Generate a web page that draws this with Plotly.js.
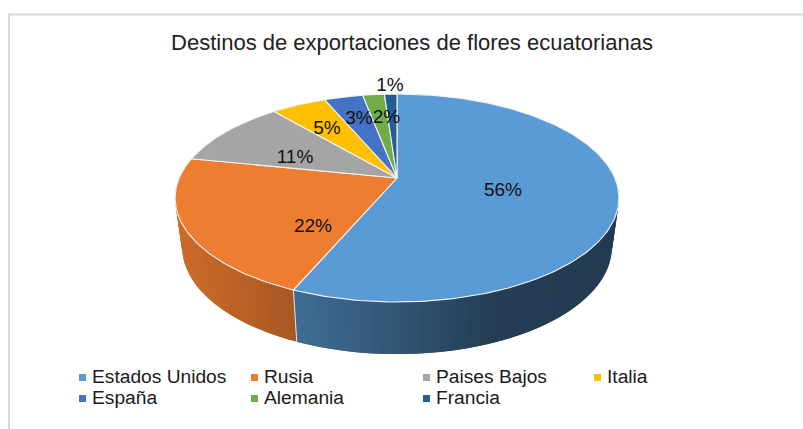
<!DOCTYPE html>
<html>
<head>
<meta charset="utf-8">
<script src="https://cdn.plot.ly/plotly-3.0.1.min.js"></script>
<style>html,body{margin:0;padding:0;background:#fff}#c{width:803px;height:429px}</style>
</head>
<body>
<div id="c"></div>
<script>
const titleText = "Destinos de exportaciones de flores ecuatorianas";
const categories = ["Estados Unidos","Rusia","Paises Bajos","Italia","España","Alemania","Francia"];
const shares = [56.4,21.8,10.6,4.8,3.4,1.9,1.1];
const colors = ["#5B9BD5","#ED7D31","#A5A5A5","#FFC000","#4472C4","#70AD47","#255E91"];

// page geometry (plot area maps 1:1 to pixels)
const W = 803, H = 429;
const labelAnchors = [[503,191],[313,227],[295,158],[327,129],[359,119],[386.5,118],[390,86]];
const legendAnchors = [[82.5,377.5],[254.5,377.5],[426.5,377.5],[597.5,377.5],[82.5,398.5],[254.5,398.5],[426.5,398.5]];
const apex = [397,178], P = 0.1923, A = 100.15, B = 217.8;
const DEG = Math.PI/180;

function rimTop(theta){
  const u = Math.sin(theta*DEG), v = Math.cos(theta*DEG), d = 1 + P*v;
  return [apex[0] + B*u/d, apex[1] - A*v/d];
}
function rimBottom(theta){
  const t = rimTop(theta);
  return [apex[0] + (t[0]-apex[0])*0.968, t[1] + 49 + (t[1]-198)*0.03];
}
function shade(x){
  const stops = [[176,.86],[293,.70],[490,.40],[620,.38]];
  if (x <= stops[0][0]) return stops[0][1];
  for (let i=1;i<stops.length;i++){
    if (x <= stops[i][0]){
      const a=stops[i-1], b=stops[i];
      return a[1] + (b[1]-a[1])*(x-a[0])/(b[0]-a[0]);
    }
  }
  return stops[stops.length-1][1];
}
function darken(hex,f){
  const n = parseInt(hex.slice(1),16);
  return "rgb("+[(n>>16)&255,(n>>8)&255,n&255].map(c=>Math.round(c*f)).join(",")+")";
}

const total = shares.reduce((a,b)=>a+b,0);
const traces = [];
let start = 0;
const ranges = shares.map(s=>{const r=[start,start+s/total*360]; start=r[1]; return r;});

// side walls: overlapping strips so that no seams show
ranges.forEach((r,i)=>{
  const a = Math.max(r[0],85), b = Math.min(r[1],275);
  if (b <= a) return;
  const step = 1.5;
  for (let t=a; t<b; t+=step){
    const e = Math.min(t+step+1.5,b);
    const p = [rimTop(t),rimTop(e),rimBottom(e),rimBottom(t),rimTop(t)];
    const col = darken(colors[i], shade((p[0][0]+p[1][0])/2));
    traces.push({type:"scatter",mode:"lines",x:p.map(q=>q[0]),y:p.map(q=>q[1]),fill:"toself",fillcolor:col,
      line:{width:0},hoverinfo:"skip",showlegend:false});
  }
});
// wall separators
ranges.forEach(r=>{
  const t = r[1];
  if (t>100 && t<260){
    const a=rimTop(t), b=rimBottom(t);
    traces.push({type:"scatter",mode:"lines",x:[a[0],b[0]],y:[a[1],b[1]],line:{color:"#e4e4e4",width:1},hoverinfo:"skip",showlegend:false});
  }
});
// top slices
ranges.forEach((r,i)=>{
  const xs=[apex[0]], ys=[apex[1]];
  for (let t=r[0]; t<r[1]; t+=1){ const q=rimTop(t); xs.push(q[0]); ys.push(q[1]); }
  const q=rimTop(r[1]); xs.push(q[0]); ys.push(q[1]); xs.push(apex[0]); ys.push(apex[1]);
  traces.push({type:"scatter",mode:"lines",x:xs,y:ys,fill:"toself",fillcolor:colors[i],
    line:{color:"#f2f2f2",width:1.1},hoverinfo:"skip",showlegend:false,name:categories[i]});
});
// data labels
traces.push({type:"scatter",mode:"text",x:labelAnchors.map(a=>a[0]),y:labelAnchors.map(a=>a[1]),
  text:shares.map(s=>Math.round(s)+"%"),textposition:"middle center",
  textfont:{family:"Liberation Sans, Arial, sans-serif",size:19,color:"#111"},hoverinfo:"skip",showlegend:false});
// legend entries: swatches, then names a little to the right
traces.push({type:"scatter",mode:"markers",x:legendAnchors.map(a=>a[0]),y:legendAnchors.map(a=>a[1]),
  marker:{symbol:"square",size:7,color:colors},hoverinfo:"skip",showlegend:false});
traces.push({type:"scatter",mode:"text",x:legendAnchors.map(a=>a[0]+9.5),y:legendAnchors.map(a=>a[1]+1),
  text:categories,textposition:"middle right",
  textfont:{family:"Liberation Sans, Arial, sans-serif",size:19.2,color:"#1a1a1a"},hoverinfo:"skip",showlegend:false});

const layout = {
  width:W,height:H,margin:{l:0,r:0,t:0,b:0},paper_bgcolor:"#fff",plot_bgcolor:"#fff",showlegend:false,
  title:{text:titleText,x:412/W,xanchor:"center",y:1-42/H,yanchor:"middle",
    font:{family:"Liberation Sans, Arial, sans-serif",size:22,color:"#222"}},
  xaxis:{range:[0,W],visible:false,fixedrange:true},
  yaxis:{range:[H,0],visible:false,fixedrange:true},
  shapes:[
    {type:"line",x0:8,x1:W,y0:14.5,y1:14.5,line:{color:"#d9d9d9",width:2}},
    {type:"line",x0:9,x1:9,y0:14,y1:H,line:{color:"#d9d9d9",width:2}}
  ]
};
Plotly.newPlot("c",traces,layout,{staticPlot:true,displayModeBar:false});
</script>
</body>
</html>
